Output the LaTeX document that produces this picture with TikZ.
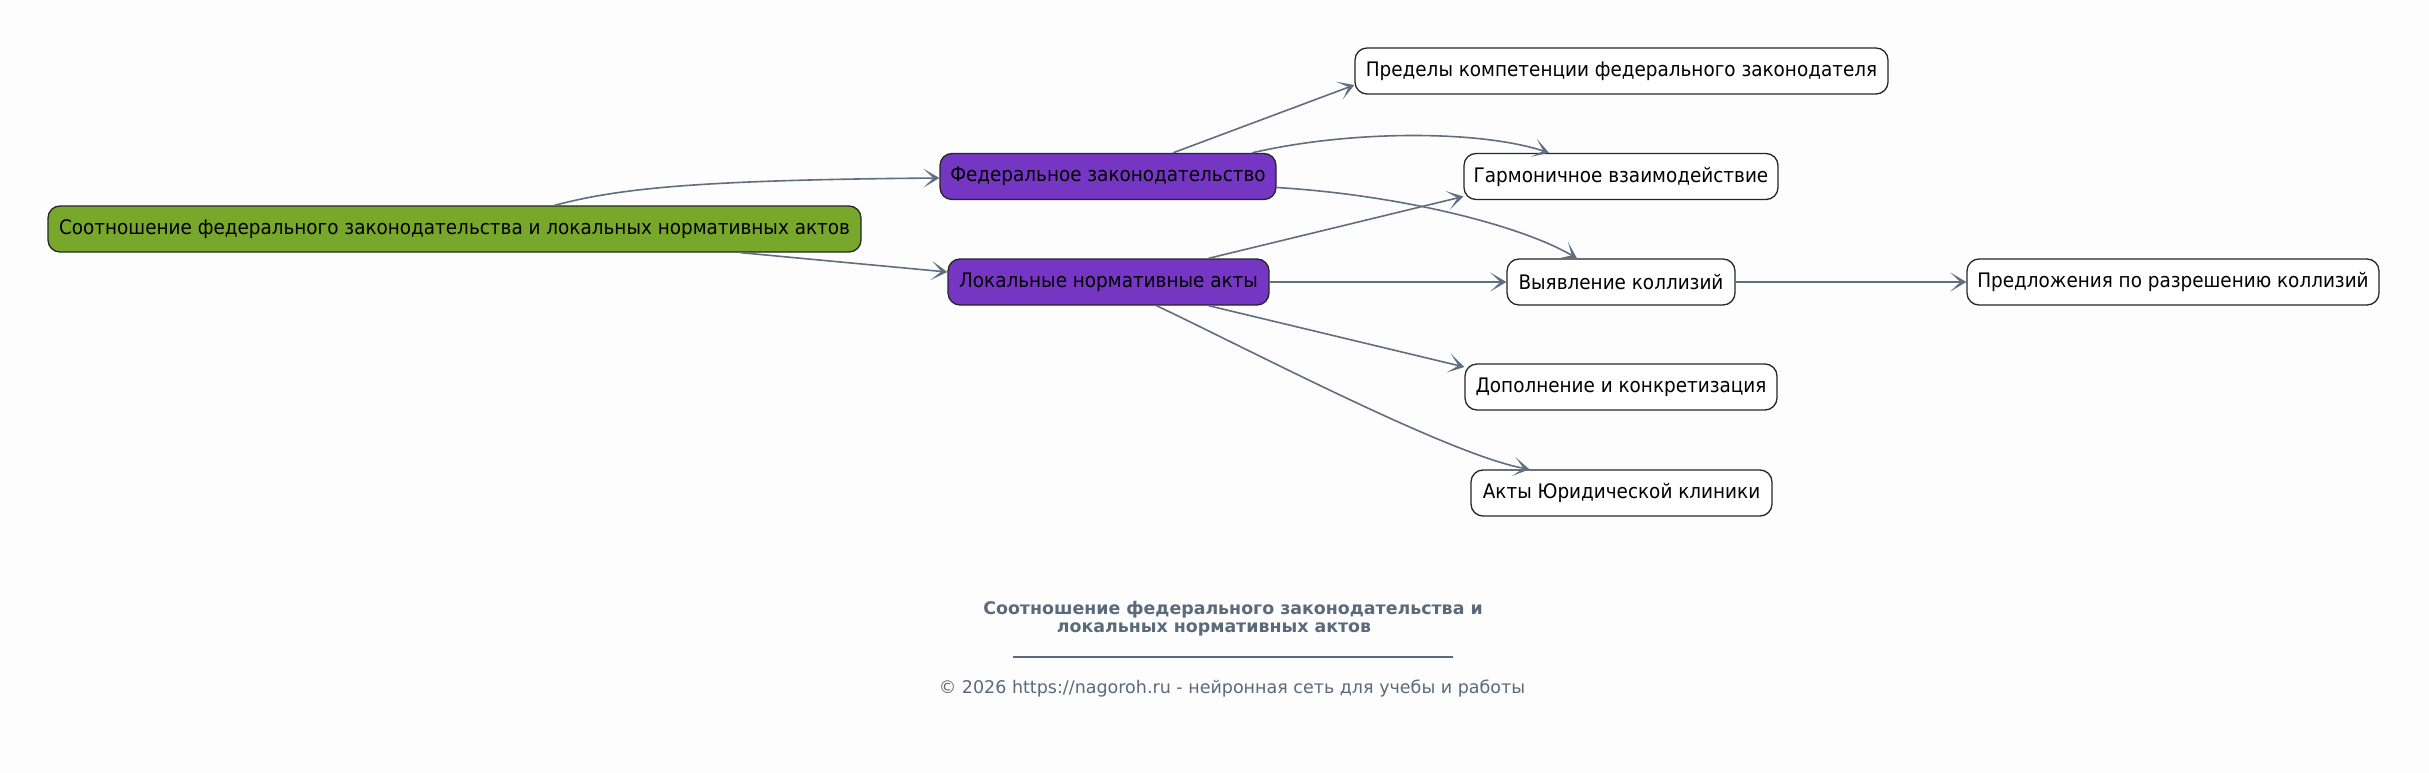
\documentclass[tikz,border=0pt]{standalone}
\usepackage{fontspec}
\setmainfont{DejaVu Sans}
\newfontfamily\nodefont{DejaVu Sans}[FakeStretch=0.92]
\usetikzlibrary{arrows.meta,calc}
\definecolor{rootgreen}{HTML}{78A82B}
\definecolor{fedpurple}{HTML}{7636C4}
\definecolor{edgegray}{HTML}{5F6F80}
\definecolor{titlegray}{HTML}{5A6A7A}
\definecolor{bg}{HTML}{FDFDFD}
\tikzset{
  box/.style={draw=black!85, line width=1.3pt, rounded corners=12pt, minimum height=46pt, inner sep=0pt, align=center, font=\nodefont\fontsize{20}{24}\selectfont, text=black},
  leaf/.style={box, fill=white},
  mid/.style={box, fill=fedpurple},
  rootbox/.style={box, fill=rootgreen},
  edge/.style={draw=edgegray, line width=1.6pt, -{Stealth[length=16pt,width=19pt,inset=10pt]}},
}
\begin{document}
\begin{tikzpicture}[x=1pt,y=1pt]
\fill[bg] (0,0) rectangle (2429,-773);
\useasboundingbox (0,0) rectangle (2429,-773);
\node[rootbox, minimum width=813pt] (root) at (454.5,-229) {Соотношение федерального законодательства и локальных нормативных актов};
\node[mid, minimum width=336pt] (fed) at (1108,-176.5) {Федеральное законодательство};
\node[mid, minimum width=321pt] (lok) at (1108.5,-282) {Локальные нормативные акты};
\node[leaf, minimum width=533pt] (pred) at (1621.5,-71) {Пределы компетенции федерального законодателя};
\node[leaf, minimum width=314pt] (garm) at (1621,-176.5) {Гармоничное взаимодействие};
\node[leaf, minimum width=228pt] (vyav) at (1621,-282) {Выявление коллизий};
\node[leaf, minimum width=412pt] (predl) at (2173,-282) {Предложения по разрешению коллизий};
\node[leaf, minimum width=312pt] (dop) at (1621,-387) {Дополнение и конкретизация};
\node[leaf, minimum width=301pt] (akty) at (1621.5,-493) {Акты Юридической клиники};

\draw[edge] ([xshift=100pt]root.north) .. controls (620,-188) and (700,-180) .. ([yshift=-1.5pt]fed.west);
\draw[edge] ([xshift=286pt]root.south) -- ([yshift=10pt]lok.west);
\draw[edge] ([xshift=65pt]fed.north) -- ([yshift=-14pt]pred.west);
\draw[edge] ([xshift=144pt]fed.north) .. controls (1350,-130) and (1480,-130) .. ([xshift=-72pt]garm.north);
\draw[edge] ([yshift=-11pt]fed.east) .. controls (1400,-195) and (1520,-225) .. ([xshift=-44pt]vyav.north);
\draw[edge] ([xshift=100pt]lok.north) -- ([yshift=-20pt]garm.west);
\draw[edge] (lok.east) -- (vyav.west);
\draw[edge] ([xshift=100pt]lok.south) -- ([yshift=20pt]dop.west);
\draw[edge] ([xshift=48pt]lok.south) .. controls (1250,-350) and (1450,-455) .. ([xshift=-92pt]akty.north);
\draw[edge] (vyav.east) -- (predl.west);

\node[font=\bfseries\fontsize{17.4}{20}\selectfont, text=titlegray, inner sep=0pt] (t1) at (1233,-610) {Соотношение федерального законодательства и};
\node[font=\bfseries\fontsize{17.4}{20}\selectfont, text=titlegray, inner sep=0pt] (t2) at (1214,-629) {локальных нормативных актов};
\draw[titlegray, line width=1.1pt] (1013,-657) coordinate (ul1) -- (1453,-657) coordinate (ul2);
\node[font=\fontsize{17.5}{20}\selectfont, text=titlegray, inner sep=0pt] (foot) at (1232,-689) {© 2026 https://nagoroh.ru - нейронная сеть для учебы и работы};
\end{tikzpicture}
\end{document}
